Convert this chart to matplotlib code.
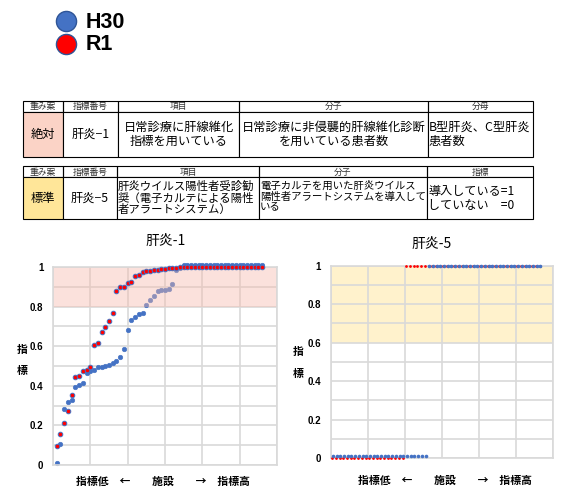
import matplotlib
matplotlib.use("Agg")
import matplotlib.pyplot as plt
import numpy as np
from matplotlib.patches import Rectangle
from matplotlib.lines import Line2D
from matplotlib.transforms import Bbox, TransformedBbox

# ---------------- data ----------------
series_names = ["H30", "R1"]
series_colors = ["#4472C4", "#FF0000"]

# 肝炎-1: facility scores sorted ascending
k1_h30 = [0.01, 0.105, 0.284, 0.318, 0.328, 0.395, 0.405, 0.416, 0.466, 0.473,
          0.48, 0.497, 0.497, 0.50, 0.507, 0.513, 0.524, 0.547, 0.587, 0.68,
          0.734, 0.746, 0.761, 0.769, 0.807, 0.835, 0.852, 0.879, 0.882, 0.882,
          0.89, 0.914, 0.985, 0.995] + [1.01] * 22
k1_r1 = [0.097, 0.157, 0.21, 0.274, 0.352, 0.446, 0.449, 0.476, 0.478, 0.497,
         0.608, 0.618, 0.67, 0.699, 0.727, 0.769, 0.877, 0.90, 0.90, 0.92,
         0.924, 0.956, 0.96, 0.973, 0.981, 0.98, 0.983, 0.986, 0.99, 0.99,
         0.995, 0.995, 0.995] + [1.0] * 23

# 肝炎-5: introduced (1) / not introduced (0)
k5_h30 = [0.012] * 26 + [1.0] * 31
k5_r1 = [0.0] * 20 + [1.0] * 37

y_ticks = [0, 0.2, 0.4, 0.6, 0.8, 1]
y_tick_labels = ["0", "0.2", "0.4", "0.6", "0.8", "1"]

table1_head = ["重み案", "指標番号", "項目", "分子", "分母"]
table1_body = ["絶対", "肝炎−1", "日常診療に肝線維化\n指標を用いている",
               "日常診療に非侵襲的肝線維化診断\nを用いている患者数",
               "B型肝炎、C型肝炎\n患者数"]
table2_head = ["重み案", "指標番号", "項目", "分子", "指標"]
table2_body = ["標準", "肝炎−5",
               "肝炎ウイルス陽性者受診勧\n奨（電子カルテによる陽性\n者アラートシステム）",
               "電子カルテを用いた肝炎ウイルス\n陽性者アラートシステムを導入して\nいる",
               "導入している=1\nしていない　=0"]

# ---------------- figure ----------------
W, H = 563, 496
fig = plt.figure(figsize=(W / 100, H / 100), dpi=100)
JP = ["Noto Sans CJK JP", "DejaVu Sans"]
plt.rcParams["font.family"] = JP


def fx(px):
    return px / W


def fy(py):
    return 1 - py / H


# legend
for yy, name, col in zip([21, 44], series_names, series_colors):
    fig.add_artist(Line2D([fx(66)], [fy(yy)], marker="o", ms=14.5, mfc=col,
                          mec="#2F5597", mew=1.0, transform=fig.transFigure))
    fig.text(fx(86), fy(yy + 1), name, fontsize=15.5, fontweight="bold",
             family=["Liberation Sans"], ha="left", va="center")


def rect(x0, y0, x1, y1, fc="none", ec="black", lw=0.8):
    fig.add_artist(Rectangle((fx(x0), fy(y1)), (x1 - x0) / W, (y1 - y0) / H,
                             transform=fig.transFigure, fc=fc, ec=ec, lw=lw))


def draw_table(cols, top, hb, bot, head, body, first_fill, aligns, sizes, vpos):
    for i in range(len(head)):
        rect(cols[i], top, cols[i + 1], hb)
        fig.text(fx((cols[i] + cols[i + 1]) / 2), fy((top + hb) / 2 + 0.5), head[i],
                 fontsize=6.3, color="#333333", ha="center", va="center")
        fc = first_fill if i == 0 else "white"
        rect(cols[i], hb, cols[i + 1], bot, fc=fc)
        clip = TransformedBbox(Bbox.from_extents(fx(cols[i]), fy(bot), fx(cols[i + 1]), fy(hb)),
                               fig.transFigure)
        al = aligns[i]
        xx = (cols[i] + cols[i + 1]) / 2 if al == "center" else cols[i] + 1
        if vpos[i] == "top":
            t = fig.text(fx(xx), fy(hb + 4), body[i], fontsize=sizes[i], ha=al, va="top",
                         linespacing=1.05, multialignment=al)
        else:
            t = fig.text(fx(xx), fy((hb + bot) / 2 + 0.5), body[i], fontsize=sizes[i], ha=al,
                         va="center", linespacing=1.12, multialignment=al)
        t.set_clip_box(clip)
        t.set_clip_on(True)


draw_table([23, 63, 118, 239, 428, 533], 101, 111.5, 156.5, table1_head, table1_body,
           "#FBD3C6", ["center", "center", "center", "center", "left"], [8.8] * 5,
           ["c"] * 5)
draw_table([23, 63, 117, 259, 427, 533], 166, 177, 219, table2_head, table2_body,
           "#FFE699", ["center", "center", "left", "left", "left"],
           [8.8, 8.8, 8.2, 7.5, 8.7],
           ["c", "c", "top", "top", "c"])

# ---------------- charts ----------------
axL = fig.add_axes([53 / W, (H - 465) / H, 224 / W, 198 / H])
axR = fig.add_axes([330.7 / W, (H - 458) / H, 222.3 / W, 192.3 / H])

for ax in (axL, axR):
    ax.set_xlim(0, 60)
    ax.set_ylim(0, 1)
    ax.set_xticks(np.arange(0, 61, 10))
    ax.set_xticklabels([])
    ax.set_yticks(y_ticks)
    ax.set_yticklabels(y_tick_labels, family=["Liberation Sans"], fontweight="bold",
                       fontsize=7)
    ax.set_yticks(np.arange(0.1, 1.0, 0.2), minor=True)
    ax.tick_params(which="both", length=0, pad=7)
    ax.grid(True, which="both", color="#D9D9D9", lw=1.2, zorder=0.5)
    ax.set_axisbelow(True)
    for s in ax.spines.values():
        s.set_color("#D9D9D9")
        s.set_linewidth(1.2)

# 肝炎-1
xL = np.arange(1, len(k1_h30) + 1)
axL.plot(xL, k1_h30, "o", ms=3.3, mfc=series_colors[0], mec=series_colors[0], mew=0.4,
         clip_on=False, zorder=2)
axL.axhspan(0.8, 1.0, color="#F6B9AC", alpha=0.42, lw=0, zorder=2.5)
axL.plot(np.arange(1, len(k1_r1) + 1), k1_r1, "o", ms=3.3, mfc=series_colors[1],
         mec=series_colors[0], mew=0.7, clip_on=False, zorder=3)

# 肝炎-5
axR.axhspan(0.6, 1.0, color="#FFF2CC", lw=0, zorder=0.2)
axR.plot(np.arange(1, len(k5_r1) + 1) - 0.6, k5_r1, "o", ms=2.0, mfc=series_colors[1],
         mec=series_colors[1], mew=0, clip_on=False, zorder=3)
axR.plot(np.arange(1, len(k5_h30) + 1) - 0.4, k5_h30, "o", ms=2.6, mfc=series_colors[0],
         mec=series_colors[0], mew=0, clip_on=False, zorder=4)

# titles and axis labels
fig.text(fx(166), fy(241), "肝炎-1", fontsize=10, ha="center", va="center")
fig.text(fx(432), fy(244), "肝炎-5", fontsize=10, ha="center", va="center")
for xx, y1, y2 in [(22, 350, 371), (298, 352, 374)]:
    fig.text(fx(xx), fy(y1), "指", fontsize=7.8, fontweight="bold", ha="center", va="center")
    fig.text(fx(xx), fy(y2), "標", fontsize=7.8, fontweight="bold", ha="center", va="center")
xlab = "指標低　←　　施設　　→　指標高"
fig.text(fx(162.5), fy(481.5), xlab, fontsize=7.8, fontweight="bold", ha="center", va="center")
fig.text(fx(445.5), fy(480.5), xlab, fontsize=7.8, fontweight="bold", ha="center", va="center")

fig.savefig("out.png", dpi=100)
